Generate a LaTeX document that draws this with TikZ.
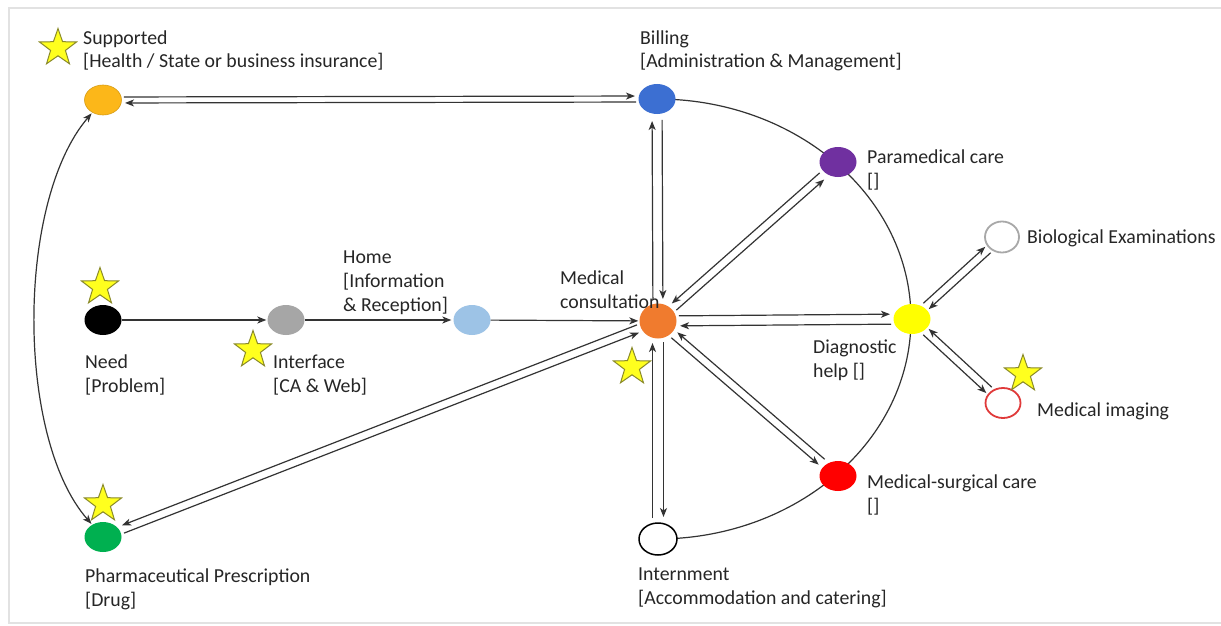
\documentclass[tikz,border=0pt]{standalone}
\usepackage{fontspec}
\setmainfont{Carlito}
\usetikzlibrary{arrows.meta,shapes.geometric,calc}

\definecolor{ink}{HTML}{262626}
\definecolor{linkc}{HTML}{333333}
\definecolor{framec}{HTML}{E2E2E2}
\definecolor{cSupported}{HTML}{FCB719}
\definecolor{cBilling}{HTML}{3C6FD2}
\definecolor{cPara}{HTML}{7030A0}
\definecolor{cDiag}{HTML}{FFFF00}
\definecolor{cSurg}{HTML}{FF0000}
\definecolor{cConsult}{HTML}{F07B2E}
\definecolor{cHome}{HTML}{9DC3E6}
\definecolor{cIntf}{HTML}{A6A6A6}
\definecolor{cPharm}{HTML}{00B050}
\definecolor{cBio}{HTML}{A8A8A8}
\definecolor{cImg}{HTML}{E03A3A}
\definecolor{starfill}{HTML}{FFFF1E}
\definecolor{starline}{HTML}{8A8A2A}

\pgfdeclarelayer{bg}
\pgfsetlayers{bg,main}

\tikzset{
  >={Stealth[length=9pt,width=7pt,inset=2.5pt]},
  dot/.style={ellipse, minimum width=37pt, minimum height=30pt, inner sep=0pt},
  ring/.style={dot, fill=white, line width=1.8pt},
  lbl/.style={anchor=base west, align=left, inner sep=0pt, text=ink,
              font=\fontsize{19.8}{24}\selectfont},
  link/.style={draw=linkc, line width=1.2pt},
  lanelink/.style={link, ->, shorten <=21pt, shorten >=22pt},
  starmark/.style={star, star points=5, star point ratio=2.5, minimum size=39pt,
                   inner sep=0pt, fill=starfill, draw=starline, line width=1pt},
}

% one of the two parallel lanes between two nodes, shifted sideways by #4
\newcommand\lane[4][]{\draw[lanelink,#1] ($(#2.center)!#4!90:(#3.center)$) -- ($(#3.center)!#4!-90:(#2.center)$);}

\begin{document}
\begin{tikzpicture}[x=1pt,y=-1pt]
\useasboundingbox (0,0) rectangle (1221,626);

% nodes
\node[dot, fill=cSupported, draw=cSupported!85!black, line width=0.6pt] (sup) at (103,100) {};
\node[dot, fill=cBilling] (bill) at (657,99) {};
\node[dot, fill=cPara] (para) at (838,162) {};
\node[ring, draw=cBio, minimum width=34pt, minimum height=31pt] (bio) at (1002,237) {};
\node[dot, fill=cDiag] (diag) at (912,319) {};
\node[ring, draw=cImg, minimum width=35pt, minimum height=30pt] (img) at (1003,403) {};
\node[dot, fill=cSurg] (surg) at (838,476) {};
\node[ring, draw=black, line width=1.5pt, minimum width=38pt, minimum height=32pt] (intern) at (658,539) {};
\node[dot, fill=cConsult, minimum width=37pt, minimum height=35pt] (cons) at (658,321) {};
\node[dot, fill=cHome] (home) at (472,320) {};
\node[dot, fill=cIntf] (intf) at (286,320) {};
\node[dot, fill=black] (need) at (103,320) {};
\node[dot, fill=cPharm] (pharm) at (103,537) {};

% stars
\node[starmark] (s1) at (58,48) {};
\node[starmark] (s2) at (100,287) {};
\node[starmark] (s3) at (253,350) {};
\node[starmark] (s4) at (632,367) {};
\node[starmark] (s5) at (103,504) {};
\node[starmark] (s6) at (1023,374) {};

% page, frame and the big half-ellipse around the consultation, behind the nodes
\begin{pgfonlayer}{bg}
\fill[white] (0,0) rectangle (1221,626);
\draw[framec, line width=1.5pt] (1230,8) -- (9,8) -- (9,623) -- (1230,623);
\draw[link] (bill.center) arc[start angle=-90, end angle=90, x radius=254, y radius=220];
\end{pgfonlayer}

% patient path
\draw[link,->,shorten >=1pt] (need) -- (intf);
\draw[link,->,shorten >=2pt] (intf) -- (home);
\draw[link,->,shorten >=1pt] (home) -- (cons);
\draw[link,<->,shorten <=1pt,shorten >=1pt] (sup) .. controls (16,202) and (16,438) .. (pharm);

% two-way lanes
\lane{sup}{bill}{3pt}
\lane{bill}{sup}{3pt}
\lane{bill}{cons}{5pt}
\lane{cons}{bill}{5pt}
\lane{cons}{para}{-4pt}
\lane{para}{cons}{-4pt}
\lane{cons}{diag}{5pt}
\lane{diag}{cons}{5pt}
\lane[shorten <=19pt, shorten >=19pt]{diag}{bio}{4pt}
\lane[shorten <=19pt, shorten >=19pt]{bio}{diag}{4pt}
\lane[shorten <=19pt, shorten >=19pt]{diag}{img}{-4pt}
\lane[shorten <=19pt, shorten >=19pt]{img}{diag}{-4pt}
\lane{cons}{surg}{-4pt}
\lane{surg}{cons}{-4pt}
\lane{cons}{intern}{5.5pt}
\lane{intern}{cons}{5.5pt}
\lane{cons}{pharm}{-4pt}
\lane{pharm}{cons}{-4pt}

% labels (anchored on the baseline of their last line)
\node[lbl] (tSup) at (83,68) {Supported\\{[}Health / State or business insurance]};
\node[lbl] (tBill) at (640,68) {Billing\\{[}Administration \& Management]};
\node[lbl] (tPara) at (867,187) {Paramedical care\\{[}]};
\node[lbl] (tBio) at (1027,243) {Biological Examinations};
\node[lbl] (tDiag) at (813,377) {Diagnostic\\help {[}]};
\node[lbl] (tImg) at (1037,416) {Medical imaging};
\node[lbl] (tSurg) at (867,512) {Medical-surgical care\\{[}]};
\node[lbl] (tInt) at (638,604) {Internment\\{[}Accommodation and catering]};
\node[lbl] (tPharm) at (85,606) {Pharmaceutical Prescription\\{[}Drug]};
\node[lbl] (tNeed) at (85,392) {Need\\{[}Problem]};
\node[lbl] (tIntf) at (273,392) {Interface\\{[}CA \& Web]};
\node[lbl] (tHome) at (343,311) {Home\\{[}Information\\\& Reception]};
\node[lbl] (tCons) at (560,308) {Medical\\consultation};
\end{tikzpicture}
\end{document}
